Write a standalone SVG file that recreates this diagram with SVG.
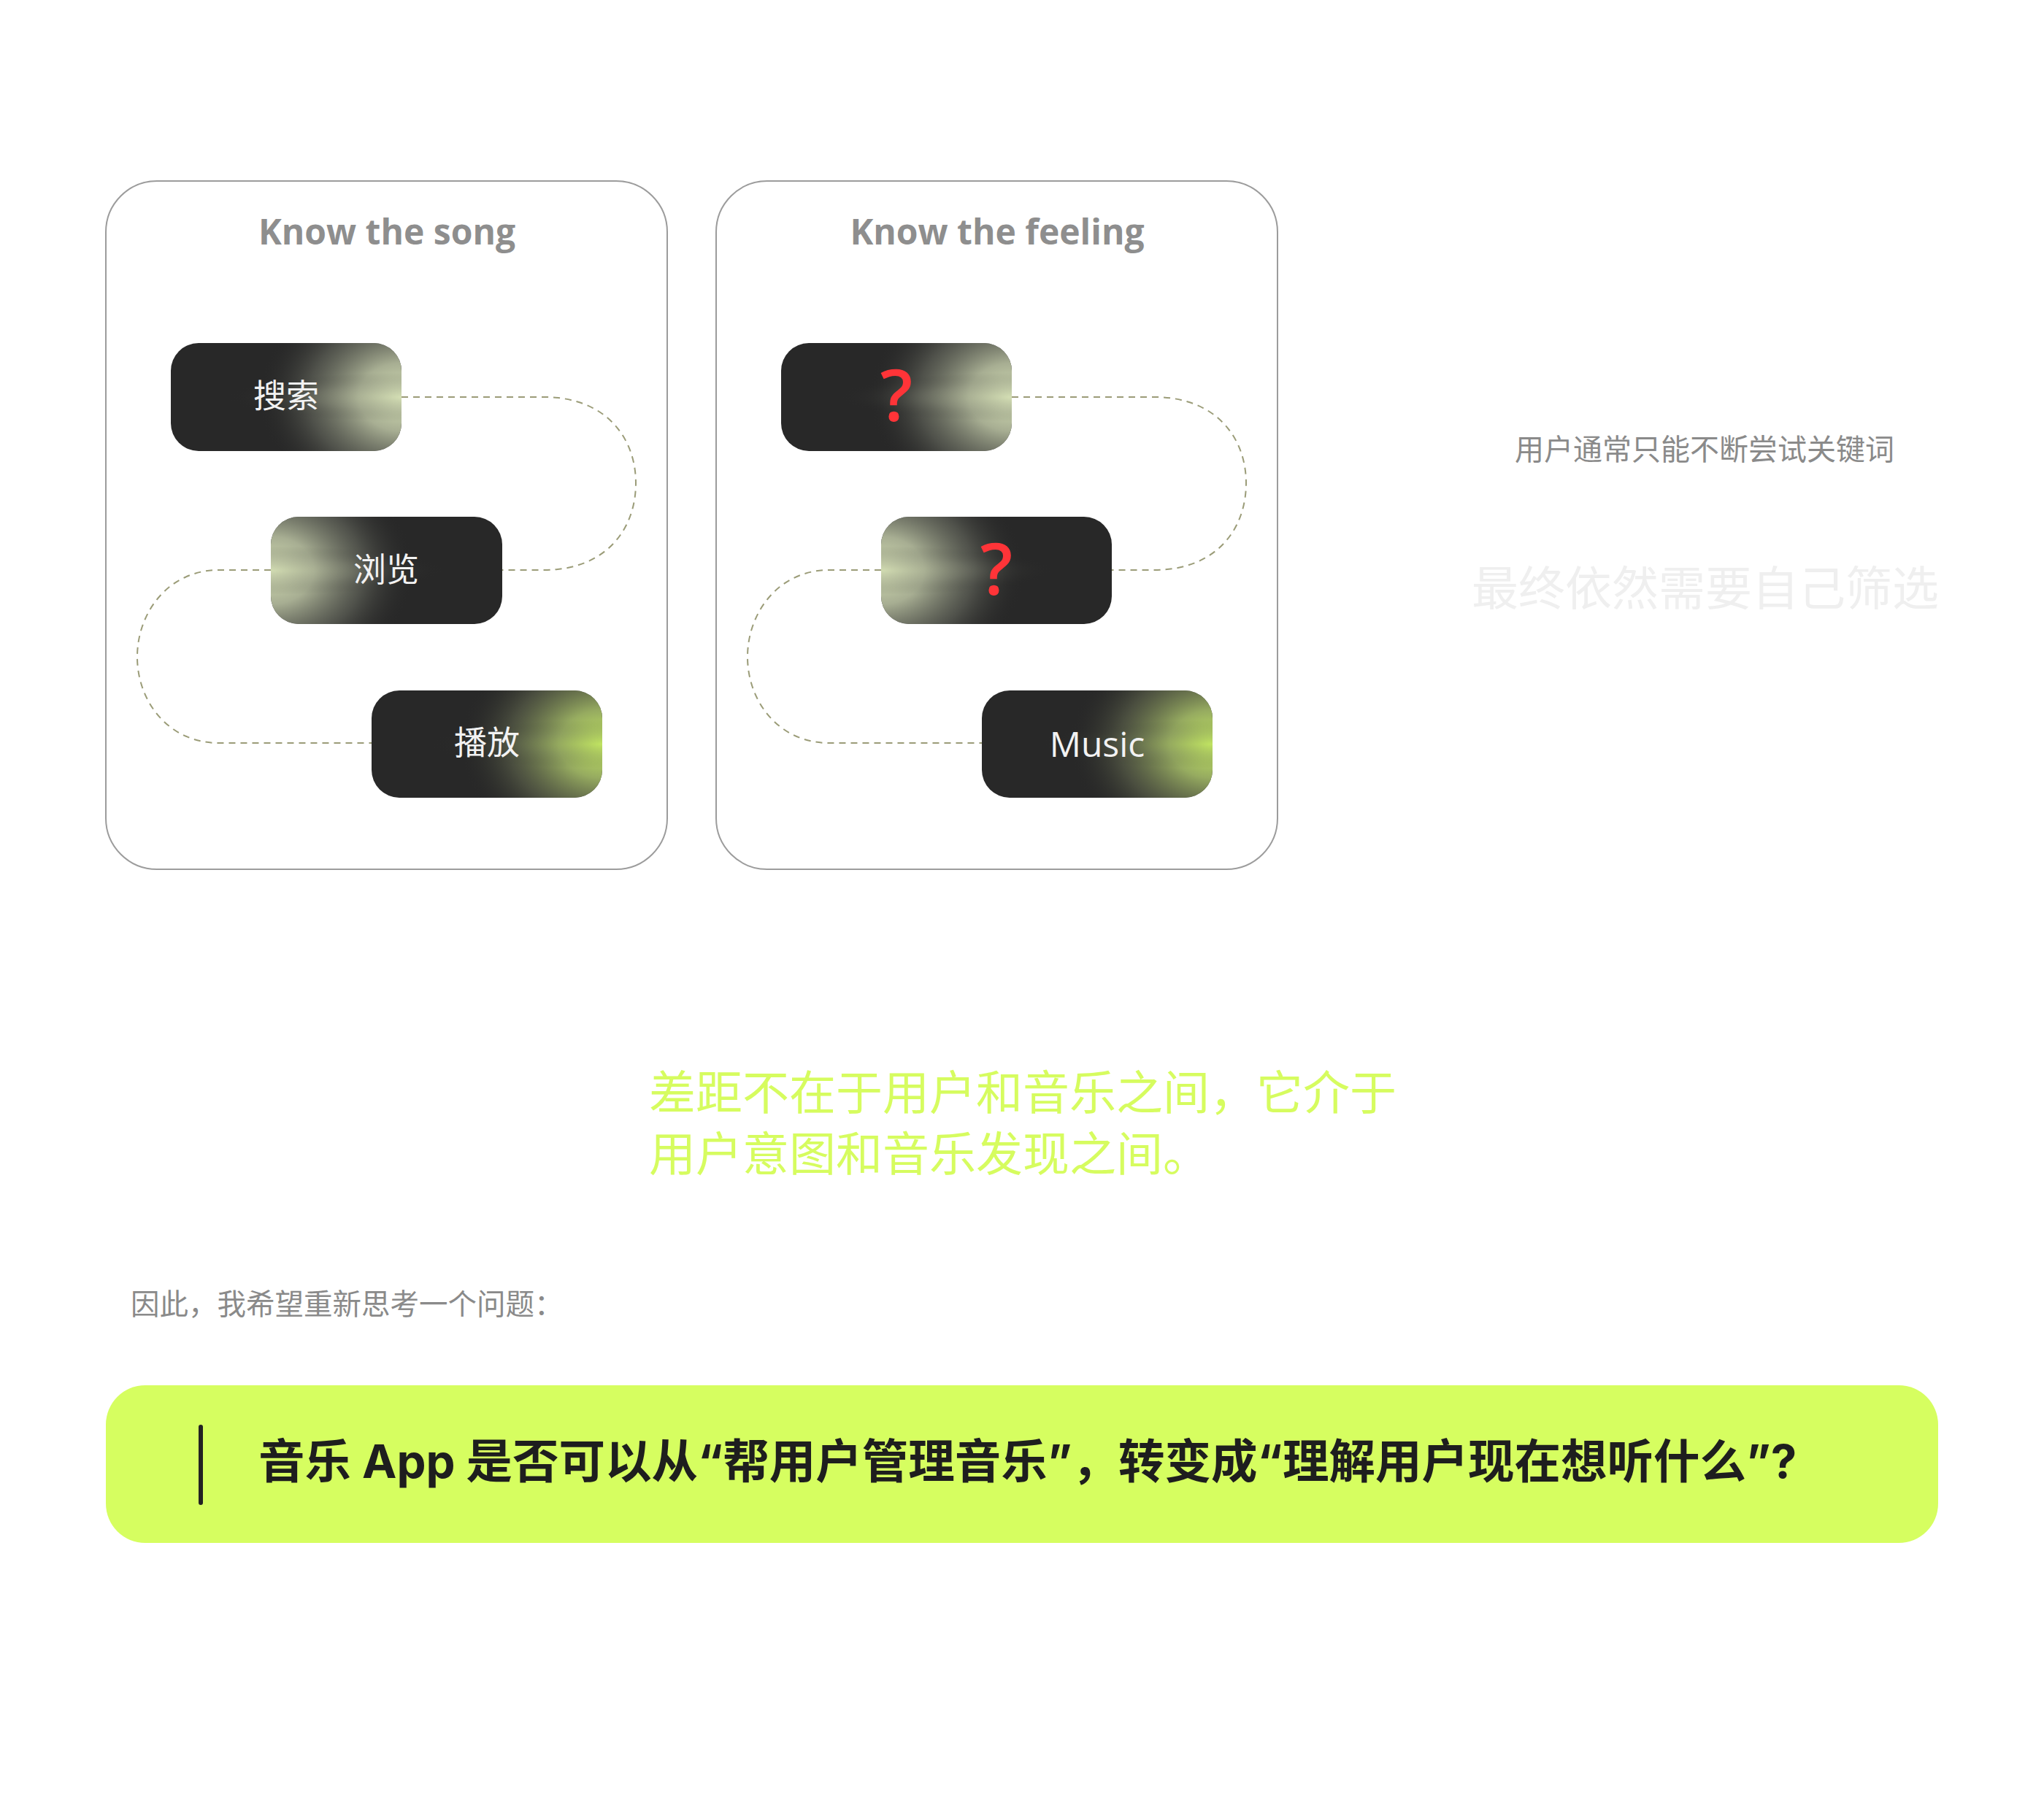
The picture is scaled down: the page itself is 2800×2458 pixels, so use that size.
<svg xmlns="http://www.w3.org/2000/svg" width="2800" height="2458" viewBox="0 0 2800 2458">
<style>
.card{fill:#fff;stroke:#9c9c9c;stroke-width:2}
.title{font-family:"Open Sans","Noto Sans",sans-serif;font-weight:700;font-size:48px;fill:#8e8e8e;text-anchor:middle}
.lbl{font-family:"Noto Sans CJK SC",sans-serif;font-size:45px;fill:#f2f2f2;text-anchor:middle}
.q{font-family:"Open Sans","Noto Sans",sans-serif;font-weight:600;font-size:98px;fill:#ff3438;text-anchor:middle}
.mus{font-family:"Open Sans","Noto Sans",sans-serif;font-weight:500;font-size:48px;fill:#f2f2f2;text-anchor:middle}
.conn{fill:none;stroke:#9b9c78;stroke-width:2;stroke-dasharray:9 7}
.base{fill:#282828}
</style>
<defs>
<radialGradient id="wR" cx="1" cy="0.5" r="0.62" gradientTransform="translate(0 -0.35) scale(1 1.7)">
<stop offset="0" stop-color="#d8e3b8"/>
<stop offset="0.3" stop-color="#aeb598" stop-opacity="0.95"/>
<stop offset="0.65" stop-color="#6a6d62" stop-opacity="0.6"/>
<stop offset="1" stop-color="#282828" stop-opacity="0"/>
</radialGradient>
<radialGradient id="sR" cx="1" cy="0.5" r="0.75" gradientTransform="translate(0 0.35) scale(1 0.3)">
<stop offset="0" stop-color="#d0dab0" stop-opacity="0.45"/>
<stop offset="0.5" stop-color="#8d917e" stop-opacity="0.25"/>
<stop offset="1" stop-color="#282828" stop-opacity="0"/>
</radialGradient>
<radialGradient id="wL" cx="0" cy="0.5" r="0.62" gradientTransform="translate(0 -0.35) scale(1 1.7)">
<stop offset="0" stop-color="#d3ddb3"/>
<stop offset="0.3" stop-color="#aeb598" stop-opacity="0.95"/>
<stop offset="0.65" stop-color="#6a6d62" stop-opacity="0.6"/>
<stop offset="1" stop-color="#282828" stop-opacity="0"/>
</radialGradient>
<radialGradient id="sL" cx="0" cy="0.5" r="0.75" gradientTransform="translate(0 0.35) scale(1 0.3)">
<stop offset="0" stop-color="#d0dab0" stop-opacity="0.45"/>
<stop offset="0.5" stop-color="#8d917e" stop-opacity="0.25"/>
<stop offset="1" stop-color="#282828" stop-opacity="0"/>
</radialGradient>
<radialGradient id="wG" cx="1" cy="0.5" r="0.62" gradientTransform="translate(0 -0.35) scale(1 1.7)">
<stop offset="0" stop-color="#c6ec62"/>
<stop offset="0.3" stop-color="#9cb263" stop-opacity="0.95"/>
<stop offset="0.65" stop-color="#62684f" stop-opacity="0.6"/>
<stop offset="1" stop-color="#282828" stop-opacity="0"/>
</radialGradient>
<radialGradient id="sG" cx="1" cy="0.5" r="0.75" gradientTransform="translate(0 0.35) scale(1 0.3)">
<stop offset="0" stop-color="#b8d860" stop-opacity="0.4"/>
<stop offset="0.5" stop-color="#707a58" stop-opacity="0.2"/>
<stop offset="1" stop-color="#282828" stop-opacity="0"/>
</radialGradient>
</defs>
<rect width="2800" height="2458" fill="#fff"/>

<g id="card-song">
<rect class="card" x="145" y="248" width="769" height="943" rx="70"/>
<text class="title" x="530" y="335">Know the song</text>
</g>
<g id="card-feeling">
<rect class="card" x="981" y="248" width="769" height="943" rx="70"/>
<text class="title" x="1366" y="335">Know the feeling</text>
</g>

<g id="connectors">
<path class="conn" d="M550 544 H745 C830 544 871 600 871 662 C871 725 830 781 745 781 H688"/>
<path class="conn" d="M371 781 H300 C230 781 188 840 188 900 C188 960 230 1018 300 1018 H509"/>
<path class="conn" d="M1386 544 H1581 C1666 544 1707 600 1707 662 C1707 725 1666 781 1581 781 H1523"/>
<path class="conn" d="M1207 781 H1136 C1066 781 1024 840 1024 900 C1024 960 1066 1018 1136 1018 H1345"/>
</g>

<g id="node-search">
<rect class="base" x="234" y="470" width="316" height="148" rx="38"/>
<rect x="234" y="470" width="316" height="148" rx="38" fill="url(#wR)"/>
<rect x="234" y="470" width="316" height="148" rx="38" fill="url(#sR)"/>
<text class="lbl" x="392" y="559">搜索</text>
</g>
<g id="node-browse">
<rect class="base" x="371" y="708" width="317" height="147" rx="38"/>
<rect x="371" y="708" width="317" height="147" rx="38" fill="url(#wL)"/>
<rect x="371" y="708" width="317" height="147" rx="38" fill="url(#sL)"/>
<text class="lbl" x="529" y="797">浏览</text>
</g>
<g id="node-play">
<rect class="base" x="509" y="946" width="316" height="147" rx="38"/>
<rect x="509" y="946" width="316" height="147" rx="38" fill="url(#wG)"/>
<rect x="509" y="946" width="316" height="147" rx="38" fill="url(#sG)"/>
<text class="lbl" x="667" y="1034">播放</text>
</g>

<g id="node-q1">
<rect class="base" x="1070" y="470" width="316" height="148" rx="38"/>
<rect x="1070" y="470" width="316" height="148" rx="38" fill="url(#wR)"/>
<rect x="1070" y="470" width="316" height="148" rx="38" fill="url(#sR)"/>
<text class="q" x="1228" y="577">?</text>
</g>
<g id="node-q2">
<rect class="base" x="1207" y="708" width="316" height="147" rx="38"/>
<rect x="1207" y="708" width="316" height="147" rx="38" fill="url(#wL)"/>
<rect x="1207" y="708" width="316" height="147" rx="38" fill="url(#sL)"/>
<text class="q" x="1365" y="815">?</text>
</g>
<g id="node-music">
<rect class="base" x="1345" y="946" width="316" height="147" rx="38"/>
<rect x="1345" y="946" width="316" height="147" rx="38" fill="url(#wG)"/>
<rect x="1345" y="946" width="316" height="147" rx="38" fill="url(#sG)"/>
<text class="mus" x="1503" y="1037">Music</text>
</g>

<g id="notes">
<text x="2335" y="630" font-family="Noto Sans CJK SC, sans-serif" font-size="40" fill="#8a8a8a" text-anchor="middle">用户通常只能不断尝试关键词</text>
<text x="2336" y="829" font-family="Noto Sans CJK SC, sans-serif" font-size="64" fill="#efefef" text-anchor="middle">最终依然需要自己筛选</text>
</g>

<g id="statement" font-family="Noto Sans CJK SC, sans-serif" font-size="64" fill="#d6fc5f">
<text x="889" y="1520">差距不在于用户和音乐之间，它介于</text>
<text x="889" y="1604">用户意图和音乐发现之间。</text>
</g>

<text x="179" y="1801" font-family="Noto Sans CJK SC, sans-serif" font-size="39.5" fill="#8a8a8a">因此，我希望重新思考一个问题：</text>

<g id="question">
<rect x="145" y="1898" width="2510" height="216" rx="54" fill="#d6fe60"/>
<rect x="272" y="1952" width="6" height="110" rx="3" fill="#222"/>
<text x="354" y="2025" font-family="Inter, Noto Sans CJK SC, sans-serif" font-weight="700" font-size="63.5" fill="#1e1e1e">音乐 App 是否可以从“帮用户管理音乐”，转变成“理解用户现在想听什么”?</text>
</g>
</svg>
